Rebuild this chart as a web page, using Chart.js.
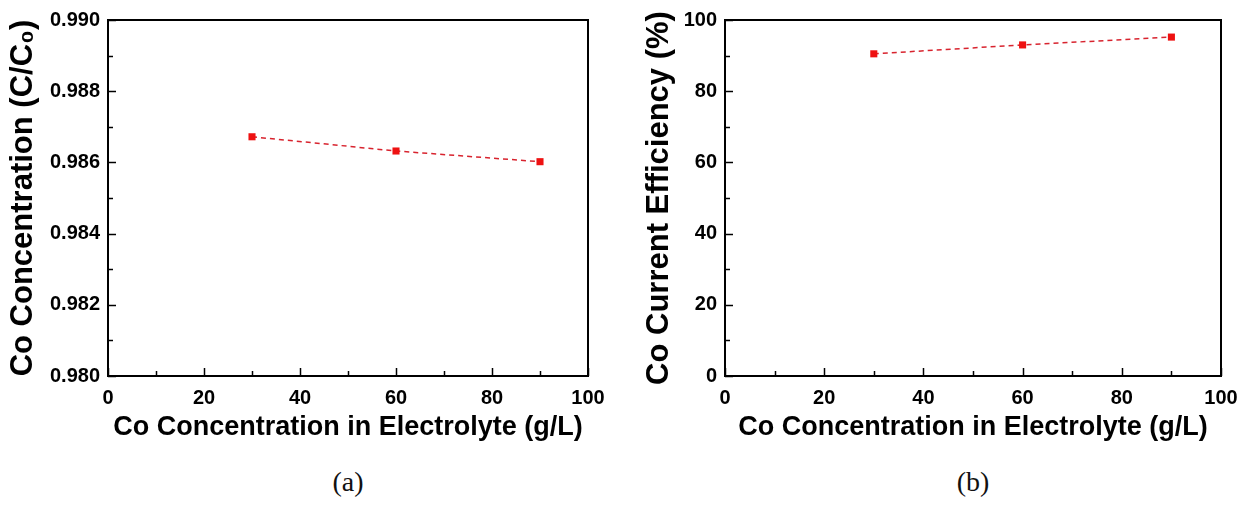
<!DOCTYPE html>
<html>
<head>
<meta charset="utf-8">
<script src="https://cdn.jsdelivr.net/npm/chart.js@4"></script>
<style>
  html, body { margin: 0; padding: 0; background: #fff; }
  body { width: 1253px; height: 506px; position: relative; overflow: hidden; }
  canvas { position: absolute; top: 0; }
  #chartA { left: 0; }
  #chartB { left: 626px; }
  .panel-label {
    position: absolute; top: 466px; width: 80px; margin-left: -40px;
    text-align: center; font: 28px 'Liberation Serif', 'DejaVu Serif', serif; color: #111;
  }
</style>
</head>
<body>
<canvas id="chartA" width="626" height="441"></canvas>
<canvas id="chartB" width="627" height="441"></canvas>
<div class="panel-label" style="left:348px">(a)</div>
<div class="panel-label" style="left:973px">(b)</div>
<script>
// Data
const coInElectrolyte = [30, 60, 90];                 // g/L
const relConcentration = [0.98672, 0.98632, 0.98602]; // C/C0
const currentEfficiency = [90.5, 93.0, 95.2];         // %

const xTitle = 'Co Concentration in Electrolyte (g/L)';
const yTitleA = 'Co Concentration (C/C\u2080)';
const yTitleB = 'Co Current Efficiency (%)';

const FONT = "'Liberation Sans', Arial, sans-serif";

// Draws the closed frame and inward major/minor ticks
const frameTicks = {
  id: 'frameTicks',
  afterDraw(chart, args, opts) {
    const { ctx, chartArea: a, scales: { x, y } } = chart;
    ctx.save();
    ctx.strokeStyle = '#000';
    ctx.lineWidth = 1.5;
    const nx = Math.round((x.max - x.min) / opts.xMinor);
    for (let i = 0; i <= nx; i++) {
      const px = Math.round(x.getPixelForValue(x.min + i * opts.xMinor)) + 0.5;
      const len = i % 2 === 0 ? 8 : 5;
      ctx.beginPath();
      ctx.moveTo(px, a.bottom);
      ctx.lineTo(px, a.bottom - len);
      ctx.stroke();
    }
    const ny = Math.round((y.max - y.min) / opts.yMinor);
    for (let i = 0; i <= ny; i++) {
      const py = Math.round(y.getPixelForValue(y.min + i * opts.yMinor)) + 0.5;
      const len = i % 2 === 0 ? 8 : 5;
      ctx.beginPath();
      ctx.moveTo(a.left, py);
      ctx.lineTo(a.left + len, py);
      ctx.stroke();
    }
    ctx.lineWidth = 2;
    ctx.strokeRect(a.left, a.top, a.right - a.left, a.bottom - a.top);
    ctx.restore();
  }
};

function makeChart(id, values, yOpts, yTitle, layout) {
  const ctx = document.getElementById(id).getContext('2d');
  return new Chart(ctx, {
    type: 'line',
    data: {
      datasets: [{
        data: coInElectrolyte.map((c, i) => ({ x: c, y: values[i] })),
        borderColor: '#d8232e',
        borderWidth: 1.5,
        borderDash: [5, 4],
        pointStyle: 'rect',
        pointRadius: 5,
        pointBackgroundColor: '#ee1111',
        pointBorderColor: '#ee1111',
        pointBorderWidth: 0,
        tension: 0
      }]
    },
    options: {
      responsive: false,
      animation: false,
      devicePixelRatio: 1,
      layout: { padding: { top: layout.top, right: layout.right, left: 0, bottom: 0 } },
      plugins: {
        legend: { display: false },
        tooltip: { enabled: false },
        frameTicks: { xMinor: 10, yMinor: yOpts.minor }
      },
      scales: {
        x: {
          type: 'linear',
          min: 0,
          max: 100,
          border: { display: false },
          grid: { display: false, drawTicks: false },
          ticks: { stepSize: 20, padding: 10, color: '#000', font: { family: FONT, size: 20, weight: 'bold' } },
          title: {
            display: true, text: xTitle, color: '#000',
            padding: 0,
            font: { family: FONT, size: 27, weight: 'bold', lineHeight: 1 }
          },
          afterFit: s => { s.height = 65; }
        },
        y: {
          type: 'linear',
          min: yOpts.min,
          max: yOpts.max,
          border: { display: false },
          grid: { display: false, drawTicks: false },
          ticks: {
            stepSize: yOpts.step, padding: 8, color: '#000',
            font: { family: FONT, size: 20, weight: 'bold' },
            callback: v => v.toFixed(yOpts.digits)
          },
          title: {
            display: true, text: yTitle, color: '#000',
            padding: { top: layout.titlePad, bottom: 0 },
            font: { family: FONT, size: 31, weight: 'bold', lineHeight: 1 }
          },
          afterFit: s => { s.width = layout.yWidth; }
        }
      }
    },
    plugins: [frameTicks]
  });
}

makeChart('chartA', relConcentration,
  { min: 0.980, max: 0.990, step: 0.002, minor: 0.001, digits: 3 },
  yTitleA, { top: 16, right: 38, yWidth: 108, titlePad: 8 });

makeChart('chartB', currentEfficiency,
  { min: 0, max: 100, step: 20, minor: 10, digits: 0 },
  yTitleB, { top: 19, right: 32, yWidth: 99, titlePad: 18 });
</script>
</body>
</html>
